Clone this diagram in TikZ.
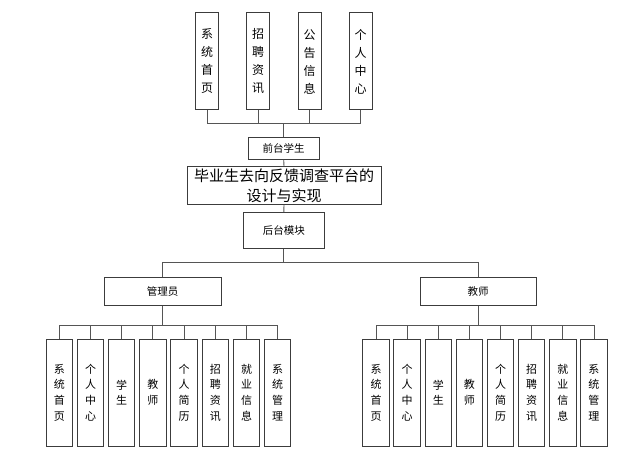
\documentclass[tikz,border=0pt]{standalone}
\usepackage{fontspec}
\setmainfont{Noto Sans CJK SC}
\usetikzlibrary{positioning}
\definecolor{boxline}{RGB}{60,60,60}
\definecolor{linkgray}{RGB}{85,85,85}

\begin{document}
\begin{tikzpicture}[
  x=1pt, y=-1pt,
  box/.style={draw=boxline, line width=1pt, fill=white, align=center, inner sep=0pt},
  topbox/.style={box, minimum width=23pt, minimum height=97pt,
                 font=\fontsize{12}{18}\selectfont},
  midbox/.style={box, font=\fontsize{10.5}{12}\selectfont},
  leafbox/.style={box, minimum width=26.5pt, minimum height=107pt,
                  font=\fontsize{11}{15.7}\selectfont},
  link/.style={draw=linkgray, line width=0.9pt}
]
\useasboundingbox (0,0) rectangle (628,465);
% front end
\node[topbox] (home) at (207,61.5) {系\\统\\首\\页};
\node[topbox] (recruit) at (258,61.5) {招\\聘\\资\\讯};
\node[topbox] (notice) at (309.5,61.5) {公\\告\\信\\息};
\node[topbox] (center) at (360.7,61.5) {个\\人\\中\\心};
\node[midbox, minimum width=71pt, minimum height=22pt] (front) at (283.7,148.3) {前台学生};
\node[box, minimum width=194pt, minimum height=37.6pt,
      font=\fontsize{15}{20}\selectfont] (title) at (284,185.5)
  {毕业生去向反馈调查平台的\\设计与实现};
\node[midbox, minimum width=81pt, minimum height=35.6pt] (back) at (283.8,230.5) {后台模块};
% back end roles
\node[midbox, minimum width=117pt, minimum height=27.7pt] (admin) at (162.5,291.2) {管理员};
\node[midbox, minimum width=116pt, minimum height=27.7pt] (teacher) at (478,291.2) {教师};
\foreach \txt [count=\i from 0] in {系\\统\\首\\页, 个\\人\\中\\心, 学\\生, 教\\师,
    个\\人\\简\\历, 招\\聘\\资\\讯, 就\\业\\信\\息, 系\\统\\管\\理}{
  \node[leafbox] (a\i) at (59.3+31.2*\i,392.5) {\txt};
  \node[leafbox] (b\i) at (376+31.14*\i,392.5) {\txt};
}
% connectors
\foreach \n in {home,recruit,notice,center}
  \draw[link] (\n.south) -- ++(0,13) -| (front.north);
\draw[link] (front.south) -- (title.north);
\draw[link] (title.south) -- (back.north);
\draw[link] (back.south) -- ++(0,13.4) -| (admin.north);
\draw[link] (back.south) -- ++(0,13.4) -| (teacher.north);
\foreach \i in {0,...,7}{
  \draw[link] (admin.south) -- ++(0,20) -| (a\i.north);
  \draw[link] (teacher.south) -- ++(0,20) -| (b\i.north);
}
\end{tikzpicture}
\end{document}
